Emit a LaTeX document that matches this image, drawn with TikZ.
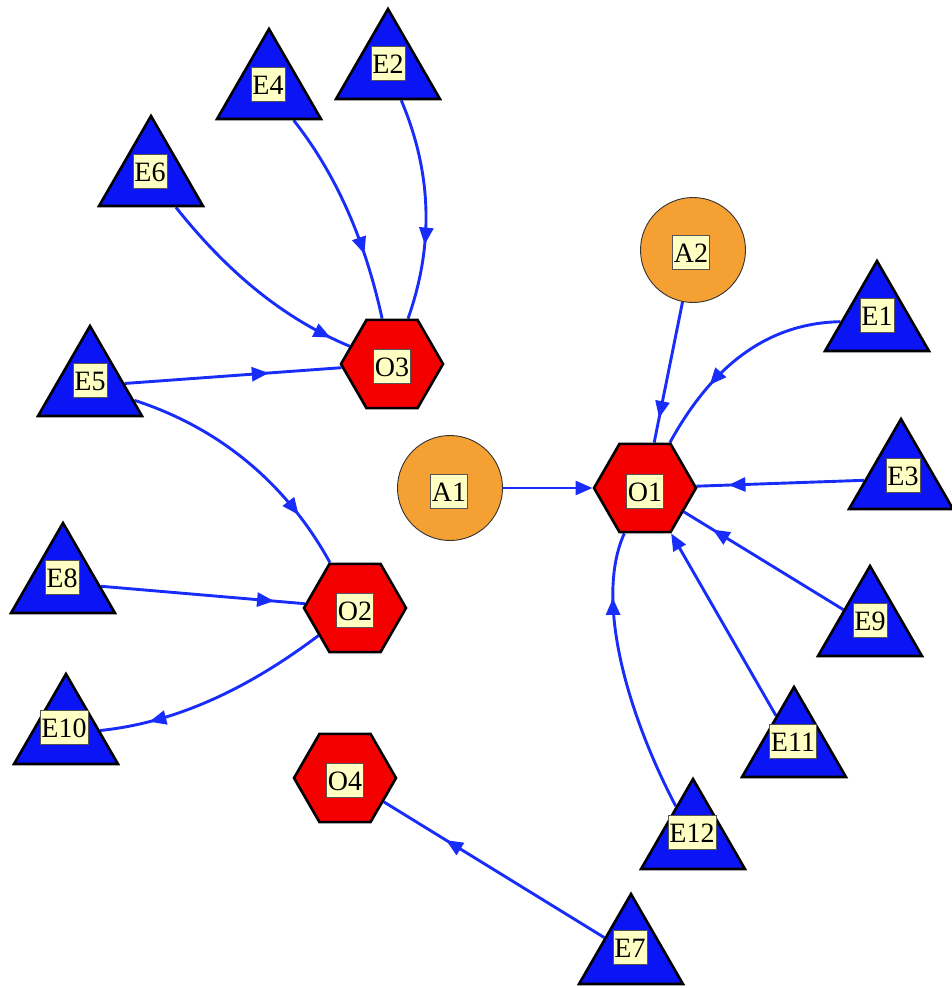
\documentclass[tikz,border=0pt]{standalone}
\usepackage{fontspec}
\setmainfont{Liberation Serif}
\usetikzlibrary{shapes.geometric,arrows.meta,decorations.markings,backgrounds}
\definecolor{triblue}{RGB}{10,20,245}
\definecolor{hexred}{RGB}{245,0,0}
\definecolor{aorange}{RGB}{245,160,50}
\definecolor{edgeblue}{RGB}{25,45,250}
\definecolor{lblfill}{RGB}{255,255,195}
\definecolor{lblborder}{RGB}{85,85,85}
\begin{document}
\begin{tikzpicture}[x=1pt,y=-1pt,
 tri/.style={regular polygon, regular polygon sides=3, minimum size=120pt, inner sep=0pt, fill=triblue, draw=black, line width=2.6pt},
 hex/.style={regular polygon, regular polygon sides=6, minimum size=102pt, inner sep=0pt, fill=hexred, draw=black, line width=2.6pt},
 act/.style={circle, minimum size=105pt, inner sep=0pt, fill=aorange, draw=black!80, line width=0.9pt},
 lbl/.style={rectangle, fill=lblfill, draw=lblborder, line width=0.8pt, inner xsep=1.5pt, inner ysep=2pt, text height=25pt, text depth=5pt, font=\fontsize{28}{30}\selectfont},
 edge/.style={color=edgeblue, line width=2.9pt},
 marr/.style={postaction={decorate,decoration={markings,mark=at position #1 with {\arrow{Triangle[length=17pt,width=14pt]}}}}},
 earr/.style={-{Triangle[length=17pt,width=14pt]}}
]
\useasboundingbox (0,0) rectangle (952,988);

% shapes
\node[tri] (e2) at (388,69) {};
\node[tri] (e4) at (269,89) {};
\node[tri] (e6) at (151,176) {};
\node[tri] (e5) at (90,386) {};
\node[tri] (e8) at (63,583) {};
\node[tri] (e10) at (66,734) {};
\node[tri] (e1) at (877,321) {};
\node[tri] (e3) at (901,479) {};
\node[tri] (e9) at (870,626) {};
\node[tri] (e11) at (794,747) {};
\node[tri] (e12) at (693,839) {};
\node[tri] (e7) at (631,954) {};
\node[hex] (o1) at (645,488) {};
\node[hex] (o2) at (355,608) {};
\node[hex] (o3) at (392,364) {};
\node[hex] (o4) at (345,778) {};
\node[act] (a1) at (450,488) {};
\node[act] (a2) at (693,250) {};

% labels
\node[lbl] (e2t) at (388,63) {E2};
\node[lbl] (e4t) at (268,84) {E4};
\node[lbl] (e6t) at (150,171) {E6};
\node[lbl] (e5t) at (90,380) {E5};
\node[lbl] (e8t) at (62,577) {E8};
\node[lbl] (e10t) at (64,727) {E10};
\node[lbl] (e1t) at (877,315) {E1};
\node[lbl] (e3t) at (903,475) {E3};
\node[lbl] (e9t) at (870,620) {E9};
\node[lbl] (e11t) at (793,741) {E11};
\node[lbl] (e12t) at (692,832) {E12};
\node[lbl] (e7t) at (630,947) {E7};
\node[lbl] (o1t) at (645,491) {O1};
\node[lbl] (o2t) at (355,610) {O2};
\node[lbl] (o3t) at (392,366) {O3};
\node[lbl] (o4t) at (345,780) {O4};
\node[lbl] (a1t) at (449,491) {A1};
\node[lbl] (a2t) at (691,252) {A2};

% connectors
\begin{pgfonlayer}{background}
\draw[edge,earr] (a1) -- (o1);
\draw[edge,marr=-25pt] (a2) -- (o1);
\draw[edge,marr=-70pt] (e1) .. controls (769,323) and (713,364) .. (o1);
\draw[edge,marr=-32pt] (e3) -- (o1);
\draw[edge,marr=-34pt] (e9) -- (o1);
\draw[edge,earr] (e11) -- (o1);
\draw[edge,marr=-66pt] (e12) .. controls (628,715) and (594,600) .. (o1);
\draw[edge,marr=-73pt] (e7) -- (o4);
\draw[edge,marr=-50pt] (o2) .. controls (245,691) and (173,723) .. (e10);
\draw[edge,marr=-31pt] (e8) -- (o2);
\draw[edge,marr=-57pt] (e5) .. controls (217,427) and (285,481) .. (o2);
\draw[edge,marr=-73pt] (e5) -- (o3);
\draw[edge,marr=-21pt] (e6) .. controls (225,269) and (280,317) .. (o3);
\draw[edge,marr=-67pt] (e4) .. controls (336,174) and (365,240) .. (o3);
\draw[edge,marr=-76pt] (e2) .. controls (432,173) and (434,245) .. (o3);
\end{pgfonlayer}
\end{tikzpicture}
\end{document}
